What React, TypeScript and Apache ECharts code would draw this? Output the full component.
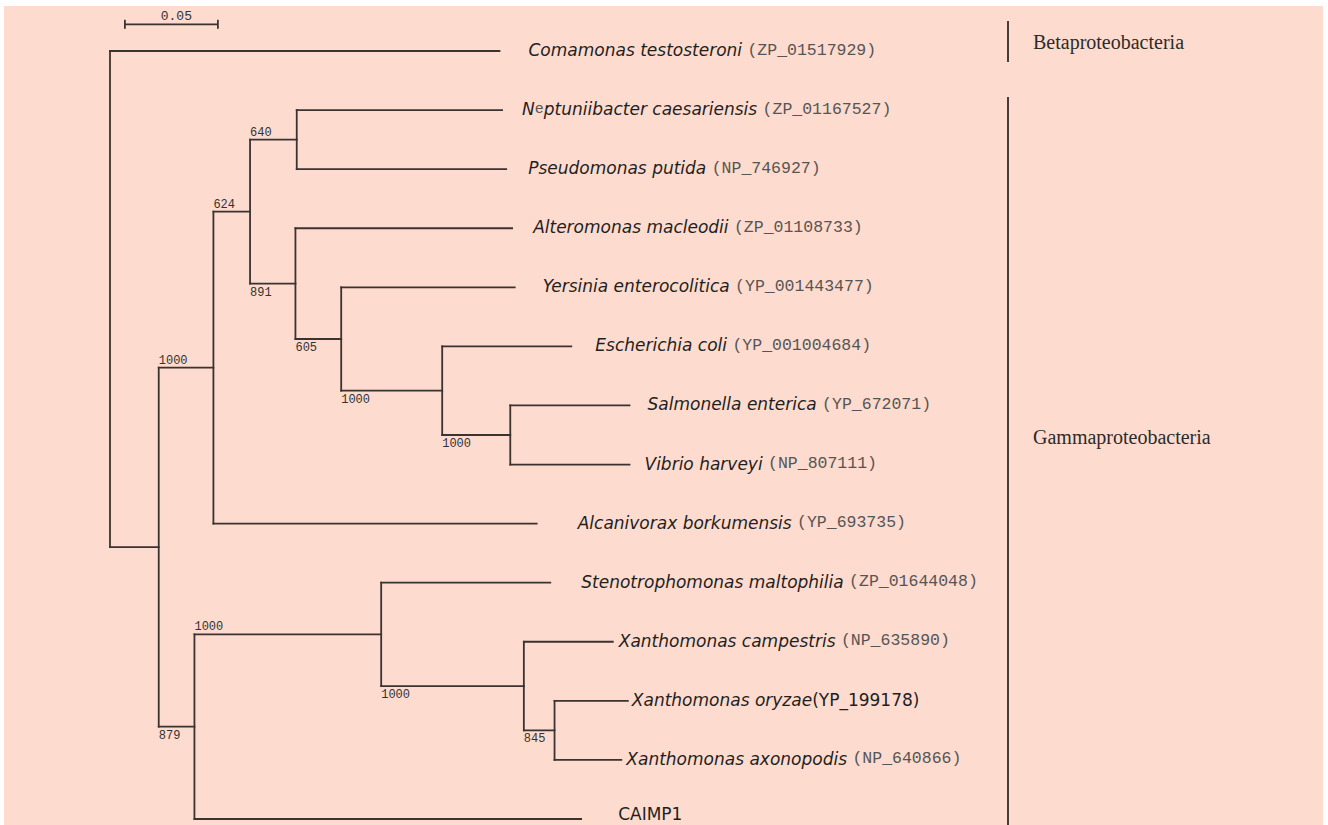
import React, { useEffect, useRef } from 'react';
import * as echarts from 'echarts';

// ---------- DATA ----------
const leafNames = [
  'Comamonas testosteroni',
  'Neptuniibacter caesariensis',
  'Pseudomonas putida',
  'Alteromonas macleodii',
  'Yersinia enterocolitica',
  'Escherichia coli',
  'Salmonella enterica',
  'Vibrio harveyi',
  'Alcanivorax borkumensis',
  'Stenotrophomonas maltophilia',
  'Xanthomonas campestris',
  'Xanthomonas oryzae',
  'Xanthomonas axonopodis',
  'CAIMP1',
];
const accessions = [
  'ZP_01517929', 'ZP_01167527', 'NP_746927', 'ZP_01108733', 'YP_001443477',
  'YP_001004684', 'YP_672071', 'NP_807111', 'YP_693735', 'ZP_01644048',
  'NP_635890', 'YP_199178', 'NP_640866', '',
];
const leafParent = ['root', 'J', 'J', 'K', 'L', 'M', 'N', 'N', 'H', 'S', 'T', 'U', 'U', 'X'];
const leafBranch = [0.2094, 0.1104, 0.1126, 0.1165, 0.0933, 0.0694, 0.0641, 0.0641, 0.1738, 0.0909, 0.0478, 0.0394, 0.0359, 0.2079];

const internalIds = ['root', 'G', 'H', 'I', 'J', 'K', 'L', 'M', 'N', 'X', 'S', 'T', 'U'];
const internalParent = [null, 'root', 'G', 'H', 'I', 'I', 'K', 'L', 'M', 'G', 'X', 'S', 'T'];
const internalBranch = [0, 0.0262, 0.0294, 0.0197, 0.0251, 0.0244, 0.0246, 0.0543, 0.0366, 0.0192, 0.1004, 0.0767, 0.0165];
const internalBootstrap = [null, null, 1000, 624, 640, 891, 605, 1000, 1000, 879, 1000, 1000, 845];

const scaleBarLength = 0.05;
const scaleBarLabel = '0.05';
const cladeNames = ['Betaproteobacteria', 'Gammaproteobacteria'];

// ---------- STYLE (pixel gaps between branch tip and label) ----------
const labelGap = [29, 20, 22, 21, 28, 24, 18, 15, 41, 31, 6, 4, 5, 37];

// ---------- LAYOUT ----------
function layoutTree() {
  const idx = (id: string) => internalIds.indexOf(id);
  const depthMemo: Record<string, number> = {};
  const depth = (id: string | null): number => {
    if (id === null) return 0;
    if (depthMemo[id] !== undefined) return depthMemo[id];
    const i = idx(id);
    const d = internalBranch[i] + depth(internalParent[i]);
    depthMemo[id] = d;
    return d;
  };
  const yMemo: Record<string, [number, number, number]> = {};
  const yOf = (id: string): [number, number, number] => {
    if (yMemo[id]) return yMemo[id];
    const ys: number[] = [];
    leafParent.forEach((p, i) => { if (p === id) ys.push(i); });
    internalParent.forEach((p, j) => { if (p === id) ys.push(yOf(internalIds[j])[0]); });
    const lo = Math.min(...ys);
    const hi = Math.max(...ys);
    const r: [number, number, number] = [(lo + hi) / 2, lo, hi];
    yMemo[id] = r;
    return r;
  };

  const segments: number[][] = [];
  const leafTips: number[][] = [];
  const bootstraps: number[][] = [];

  leafParent.forEach((p, i) => {
    const x0 = depth(p);
    const x1 = x0 + leafBranch[i];
    segments.push([x0, i, x1, i]);
    leafTips.push([x1, i, i]);
  });
  internalIds.forEach((id, j) => {
    const [y, lo, hi] = yOf(id);
    const x = depth(id);
    segments.push([x, lo, x, hi]);
    const p = internalParent[j];
    if (p) {
      const px = depth(p);
      segments.push([px, y, x, y]);
      const bs = internalBootstrap[j];
      if (bs !== null) {
        const py = yOf(p)[0];
        bootstraps.push([px, y, bs, y < py ? 1 : 0]);
      }
    }
  });
  return { segments, leafTips, bootstraps };
}

function leafRich(i: number): string {
  const name = leafNames[i];
  const acc = accessions[i];
  if (!acc) return `{plain|${name}}`;
  if (name.startsWith('Neptuniibacter')) {
    return `{sp|N}{e|e}{sp|${name.slice(2)} }{acc|(${acc})}`;
  }
  if (name === 'Xanthomonas oryzae') {
    return `{sp|${name}}{accSans|(${acc})}`;
  }
  return `{sp|${name} }{acc|(${acc})}`;
}

const LINE = '#3b3232';

export default function App() {
  const ref = useRef<HTMLDivElement>(null);
  useEffect(() => {
    if (!ref.current) return;
    const chart = echarts.init(ref.current, undefined, { renderer: 'svg' });
    const { segments, leafTips, bootstraps } = layoutTree();

    const option: any = {
      animation: false,
      backgroundColor: '#ffffff',
      grid: { left: 110, top: 51, width: 930, height: 768 },
      xAxis: { type: 'value', min: 0, max: 0.5, show: false },
      yAxis: { type: 'value', min: 0, max: 13, inverse: true, show: false },
      graphic: [
        { type: 'rect', z: -10, shape: { x: 4, y: 6, width: 1319, height: 819 }, style: { fill: '#FDDBCE' } },
        { type: 'line', shape: { x1: 1008, y1: 21, x2: 1008, y2: 62 }, style: { stroke: '#4a3b3b', lineWidth: 2 } },
        { type: 'line', shape: { x1: 1008, y1: 97, x2: 1008, y2: 825 }, style: { stroke: '#4a3b3b', lineWidth: 2 } },
        { type: 'text', x: 1033, y: 42, style: { text: cladeNames[0], fontFamily: 'Liberation Serif', fontSize: 20, fill: '#2b2b2b', verticalAlign: 'middle' } },
        { type: 'text', x: 1033, y: 437, style: { text: cladeNames[1], fontFamily: 'Liberation Serif', fontSize: 20, fill: '#2b2b2b', verticalAlign: 'middle' } },
      ],
      series: [
        {
          type: 'custom',
          name: 'branches',
          coordinateSystem: 'cartesian2d',
          encode: { x: [0, 2], y: [1, 3] },
          data: segments,
          renderItem: (params: any, api: any) => {
            const a = api.coord([api.value(0), api.value(1)]);
            const b = api.coord([api.value(2), api.value(3)]);
            return {
              type: 'line',
              shape: { x1: a[0], y1: a[1], x2: b[0], y2: b[1] },
              style: { stroke: LINE, lineWidth: 1.8, lineCap: 'square' },
            };
          },
        },
        {
          type: 'custom',
          name: 'leaves',
          coordinateSystem: 'cartesian2d',
          encode: { x: 0, y: 1 },
          data: leafTips,
          renderItem: (params: any, api: any) => {
            const i = api.value(2);
            const p = api.coord([api.value(0), api.value(1)]);
            return {
              type: 'text',
              x: p[0] + labelGap[i],
              y: Math.min(p[1] - 1, 814),
              style: {
                text: leafRich(i),
                align: 'left',
                verticalAlign: 'middle',
                fontFamily: 'Liberation Mono',
                fontSize: 16.5,
                fill: '#555',
                rich: {
                  sp: { fontFamily: 'DejaVu Sans', fontStyle: 'italic', fontSize: 17, fill: '#1f1f1f', color: '#1f1f1f' },
                  plain: { fontFamily: 'DejaVu Sans', fontSize: 17, fill: '#1f1f1f', color: '#1f1f1f' },
                  accSans: { fontFamily: 'DejaVu Sans', fontSize: 17, fill: '#1f1f1f', color: '#1f1f1f' },
                  acc: { fontFamily: 'Liberation Mono', fontSize: 16.5, fill: '#555', color: '#555' },
                  e: { fontFamily: 'Liberation Mono', fontSize: 15, fill: '#555', color: '#555' },
                },
              },
            };
          },
        },
        {
          type: 'custom',
          name: 'bootstrap',
          coordinateSystem: 'cartesian2d',
          encode: { x: 0, y: 1 },
          data: bootstraps,
          renderItem: (params: any, api: any) => {
            const p = api.coord([api.value(0), api.value(1)]);
            const above = api.value(3) === 1;
            return {
              type: 'text',
              x: p[0],
              y: above ? p[1] - 1 : p[1] + 3,
              style: {
                text: String(api.value(2)),
                align: 'left',
                verticalAlign: above ? 'bottom' : 'top',
                fontFamily: 'Liberation Mono',
                fontSize: 12,
                fill: '#333',
              },
            };
          },
        },
        {
          type: 'custom',
          name: 'scale',
          coordinateSystem: 'cartesian2d',
          encode: { x: 0, y: 1 },
          data: [[0.008, -0.452]],
          renderItem: (params: any, api: any) => {
            const a = api.coord([api.value(0), api.value(1)]);
            const b = api.coord([api.value(0) + scaleBarLength, api.value(1)]);
            const st = { stroke: LINE, lineWidth: 1.8 };
            return {
              type: 'group',
              children: [
                { type: 'line', shape: { x1: a[0], y1: a[1], x2: b[0], y2: b[1] }, style: st },
                { type: 'line', shape: { x1: a[0], y1: a[1] - 4.5, x2: a[0], y2: a[1] + 4.5 }, style: st },
                { type: 'line', shape: { x1: b[0], y1: b[1] - 4.5, x2: b[0], y2: b[1] + 4.5 }, style: st },
                {
                  type: 'text',
                  x: (a[0] + b[0]) / 2 + 5,
                  y: a[1] - 1,
                  style: { text: scaleBarLabel, align: 'center', verticalAlign: 'bottom', fontFamily: 'Liberation Mono', fontSize: 13, fill: '#333' },
                },
              ],
            };
          },
        },
      ],
    };
    chart.setOption(option);
    return () => chart.dispose();
  }, []);
  return <div ref={ref} style={{ position: 'absolute', left: 0, top: 0, width: 1328, height: 825 }} />;
}
